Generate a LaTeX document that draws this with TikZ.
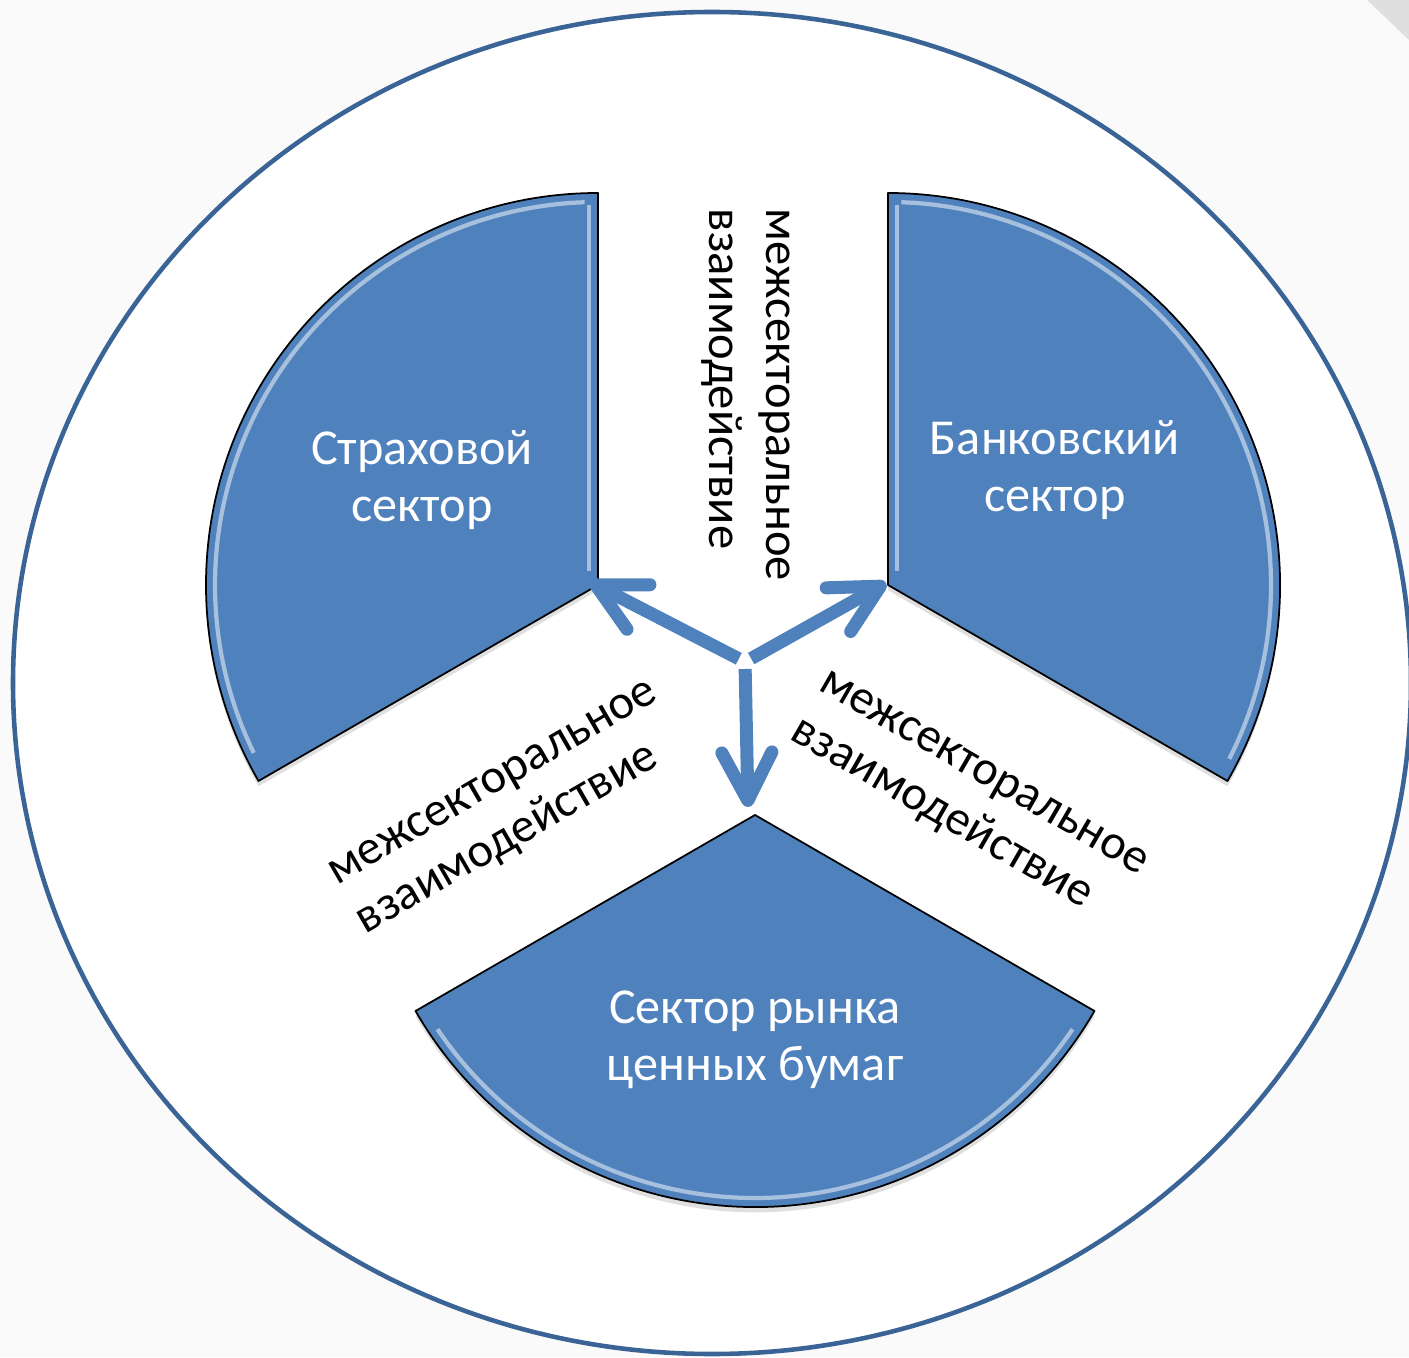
\documentclass[tikz,border=0pt]{standalone}
\usepackage{fontspec}
\setmainfont{Carlito}
\usetikzlibrary{arrows.meta,shadows}
\definecolor{sectorblue}{HTML}{4F81BD}
\definecolor{ringblue}{HTML}{3A6496}
\definecolor{pagegray}{HTML}{FAFAFA}
\tikzset{
  sector/.style={fill=sectorblue, draw=black, line width=0.5pt, line join=round,
    drop shadow={shadow xshift=0pt, shadow yshift=-1.5pt, opacity=0.25}},
  glint/.style={draw=white, draw opacity=0.5, line width=1.2pt},
  sectorlabel/.style={text=white, align=center, font=\fontsize{14.3}{16.2}\selectfont},
  linklabel/.style={text=black, align=left, font=\fontsize{13.8}{16.2}\selectfont},
  flow/.style={draw=sectorblue, line width=3.7pt, shorten <=0.07cm,
    -{Straight Barb[length=4.8mm, width=5mm, round]}}
}
\begin{document}
\begin{tikzpicture}[x=0.01cm, y=0.01cm]
  \useasboundingbox (0,0) rectangle (1409,1357);
  \clip (0,0) rectangle (1409,1357);
  % page and ring
  \fill[pagegray] (0,0) rectangle (1409,1357);
  \fill[gray!25] (1367,1357) -- (1409,1357) -- (1409,1317) -- cycle;
  \draw[ringblue, line width=1.3pt, fill=white] (712,674) ellipse [x radius=699, y radius=671];

  % sector apexes
  \coordinate (insA) at (598,772);
  \coordinate (bankA) at (888,772);
  \coordinate (secA) at (755,542);

  % sectors
  \draw[sector] (insA) -- ++(90:392) arc[start angle=90, end angle=210, radius=392] -- cycle;
  \draw[sector] (bankA) -- ++(-30:392) arc[start angle=-30, end angle=90, radius=392] -- cycle;
  \draw[sector] (secA) -- ++(210:392) arc[start angle=210, end angle=330, radius=392] -- cycle;

  % bevel highlights
  \draw[glint] (insA) ++(92:383) arc[start angle=92, end angle=206, radius=383];
  \draw[glint] (insA) ++(-9,14) -- ++(0,366);
  \draw[glint] (bankA) ++(-27:383) arc[start angle=-27, end angle=88, radius=383];
  \draw[glint] (bankA) ++(9,14) -- ++(0,366);
  \draw[glint] (secA) ++(214:383) arc[start angle=214, end angle=326, radius=383];

  % labels
  \node[sectorlabel] (ins) at (422,877) {Страховой\\сектор};
  \node[sectorlabel] (bank) at (1055,887) {Банковский\\сектор};
  \node[sectorlabel] (sec) at (755,317) {Сектор рынка\\ценных бумаг};

  \node[linklabel, rotate=-90] (linkTop) at (746,962) {межсекторальное\\взаимодействие};
  \node[linklabel, rotate=30] (linkLeft) at (509,547) {межсекторальное\\взаимодействие};
  \node[linklabel, rotate=-30] (linkRight) at (968,557) {межсекторальное\\взаимодействие};

  % arrows from the hub
  \coordinate (hub) at (745,695);
  \coordinate (insT) at (590,775);
  \coordinate (bankT) at (886,774);
  \coordinate (secT) at (748,550);
  \draw[flow] (hub) -- (insT);
  \draw[flow] (hub) -- (bankT);
  \draw[flow] (hub) -- (secT);
\end{tikzpicture}
\end{document}
